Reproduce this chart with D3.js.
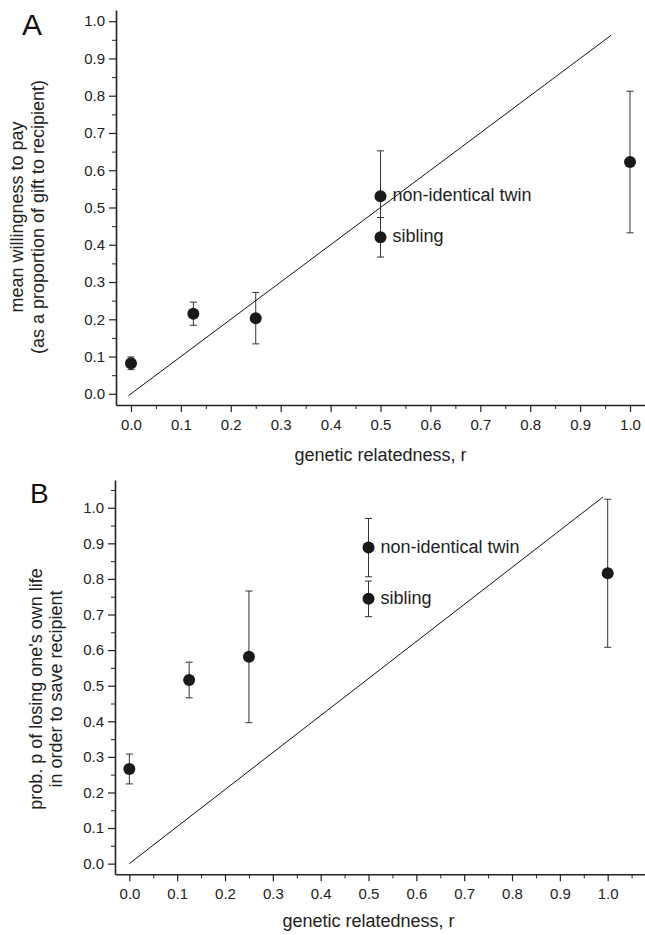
<!DOCTYPE html>
<html>
<head>
<meta charset="utf-8">
<script src="https://cdn.jsdelivr.net/npm/d3@7/dist/d3.min.js"></script>
<style>
  body { margin: 0; background: #fff; }
  svg { display: block; font-family: "Liberation Sans", Arial, Helvetica, sans-serif; }
  .axis path, .axis line { stroke: #222; }
  .axis text { fill: #222; font-size: 15px; }
</style>
</head>
<body>
<div id="myfigure"></div>
<script>
// relatedness categories (x) and the two responses
var relatedness = [0, 0.125, 0.25, 0.5, 0.5, 1.0];
var pointLabels = ["", "", "", "non-identical twin", "sibling", ""];

// panel A: mean willingness to pay, +/- error
var payMean = [0.082, 0.215, 0.203, 0.530, 0.420, 0.622];
var payErr  = [0.017, 0.031, 0.069, 0.122, 0.053, 0.190];

// panel B: prob. p of losing one's own life, +/- error
var lifeMean = [0.266, 0.516, 0.581, 0.888, 0.744, 0.816];
var lifeErr  = [0.042, 0.050, 0.185, 0.082, 0.050, 0.208];

// reference lines (start and end points in data units)
var payLine  = [[-0.005, -0.005], [0.962, 0.962]];
var lifeLine = [[0, 0], [0.99, 1.03]];

// ticks
var majorTicks = [0, 0.1, 0.2, 0.3, 0.4, 0.5, 0.6, 0.7, 0.8, 0.9, 1.0];
var minorTicks = [0.05, 0.15, 0.25, 0.35, 0.45, 0.55, 0.65, 0.75, 0.85, 0.95, 1.05];

var svg = d3.select("#myfigure")
    .append("svg")
    .attr("width", 645)
    .attr("height", 935);

var panel = function(opts) {
    var g = svg.append("g");

    var xScale = d3.scaleLinear().domain(opts.xDomain).range(opts.xRange);
    var yScale = d3.scaleLinear().domain(opts.yDomain).range(opts.yRange);

    var inX = function(v) { return v <= opts.xDomain[1]; };
    var inY = function(v) { return v <= opts.yDomain[1]; };

    // minor ticks first, then major ticks with labels
    g.append("g")
        .attr("class", "axis")
        .attr("transform", "translate(0," + opts.yRange[0] + ")")
        .call(d3.axisBottom(xScale).tickValues(minorTicks.filter(inX)).tickSize(4).tickFormat(""))
        .select(".domain").remove();
    g.append("g")
        .attr("class", "axis")
        .attr("transform", "translate(" + opts.xRange[0] + ",0)")
        .call(d3.axisLeft(yScale).tickValues(minorTicks.filter(inY)).tickSize(4).tickFormat(""))
        .select(".domain").remove();

    var xAxis = g.append("g")
        .attr("class", "axis")
        .attr("transform", "translate(0," + opts.yRange[0] + ")")
        .call(d3.axisBottom(xScale).tickValues(majorTicks).tickSize(7).tickSizeOuter(0).tickPadding(7).tickFormat(d3.format(".1f")));
    xAxis.select(".domain").attr("stroke-width", 1.6);
    xAxis.selectAll(".tick line").attr("stroke-width", 1.2);

    var yAxis = g.append("g")
        .attr("class", "axis")
        .attr("transform", "translate(" + opts.xRange[0] + ",0)")
        .call(d3.axisLeft(yScale).tickValues(majorTicks).tickSize(7).tickSizeOuter(0).tickPadding(4).tickFormat(d3.format(".1f")));
    yAxis.select(".domain").attr("stroke-width", 1.6);
    yAxis.selectAll(".tick line").attr("stroke-width", 1.2);

    // reference line r = value
    var line = d3.line()
        .x(function(d) { return xScale(d[0]); })
        .y(function(d) { return yScale(d[1]); });
    g.append("path")
        .datum(opts.refLine)
        .attr("d", line)
        .attr("fill", "none")
        .attr("stroke", "#111")
        .attr("stroke-width", 1);

    var data = relatedness.map(function(r, i) {
        return { r: r, m: opts.mean[i], e: opts.err[i], label: pointLabels[i] };
    });

    // error bars
    var bars = g.selectAll(".ebar").data(data).enter().append("g").attr("class", "ebar")
        .attr("stroke", "#333").attr("stroke-width", 1);
    bars.append("line")
        .attr("x1", function(d) { return xScale(d.r); })
        .attr("x2", function(d) { return xScale(d.r); })
        .attr("y1", function(d) { return yScale(d.m + d.e); })
        .attr("y2", function(d) { return yScale(d.m - d.e); });
    [1, -1].forEach(function(s) {
        bars.append("line")
            .attr("x1", function(d) { return xScale(d.r) - 3.5; })
            .attr("x2", function(d) { return xScale(d.r) + 3.5; })
            .attr("y1", function(d) { return yScale(d.m + s * d.e); })
            .attr("y2", function(d) { return yScale(d.m + s * d.e); });
    });

    // points
    g.selectAll(".dot").data(data).enter().append("circle")
        .attr("class", "dot")
        .attr("cx", function(d) { return xScale(d.r); })
        .attr("cy", function(d) { return yScale(d.m); })
        .attr("r", 6)
        .attr("fill", "#1a1a1a");

    // point annotations
    g.selectAll(".plabel").data(data.filter(function(d) { return d.label; })).enter().append("text")
        .attr("class", "plabel")
        .attr("x", function(d) { return xScale(d.r) + 12; })
        .attr("y", function(d) { return yScale(d.m) + 5; })
        .attr("font-size", "18px")
        .attr("fill", "#222")
        .text(function(d) { return d.label; });

    // x axis title
    g.append("text")
        .attr("x", xScale(0.5))
        .attr("y", opts.xTitleY)
        .attr("text-anchor", "middle")
        .attr("font-size", "18px")
        .attr("fill", "#222")
        .text("genetic relatedness, r");

    // y axis title (two lines)
    opts.yTitle.forEach(function(t, i) {
        g.append("text")
            .attr("transform", "translate(" + opts.yTitleX[i] + "," + opts.yTitleMid + ") rotate(-90)")
            .attr("text-anchor", "middle")
            .attr("font-size", "18px")
            .attr("fill", "#222")
            .text(t);
    });

    // panel letter
    g.append("text")
        .attr("x", opts.letterPos[0])
        .attr("y", opts.letterPos[1])
        .attr("font-size", opts.letterSize)
        .attr("fill", "#111")
        .text(opts.letter);
};

panel({
    xDomain: [-0.03, 1.03], xRange: [116, 645],
    yDomain: [-0.03, 1.03], yRange: [405, 10],
    mean: payMean, err: payErr, refLine: payLine,
    xTitleY: 461,
    yTitle: ["mean willingness to pay", "(as a proportion of gift to recipient)"],
    yTitleX: [23, 44], yTitleMid: 217,
    letter: "A", letterPos: [22, 35], letterSize: "30px"
});

panel({
    xDomain: [-0.03, 1.078], xRange: [115, 645],
    yDomain: [-0.03, 1.078], yRange: [874.3, 480],
    mean: lifeMean, err: lifeErr, refLine: lifeLine,
    xTitleY: 927,
    yTitle: ["prob. p of losing one's own life", "in order to save recipient"],
    yTitleX: [42, 62], yTitleMid: 689,
    letter: "B", letterPos: [30, 503], letterSize: "28px"
});
</script>
</body>
</html>
